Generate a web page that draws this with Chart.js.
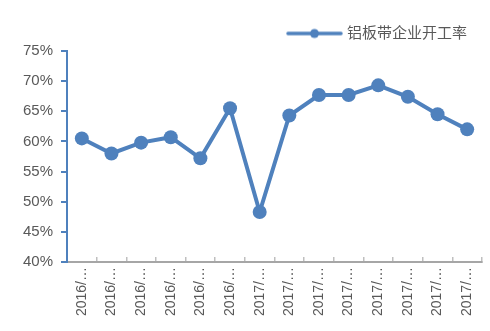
<!DOCTYPE html>
<html>
<head>
<meta charset="utf-8">
<script src="https://cdn.jsdelivr.net/npm/chart.js@4/dist/chart.umd.min.js"></script>
<style>
  html, body { margin: 0; padding: 0; background: #fff; }
  #wrap { width: 490px; height: 331px; }
</style>
</head>
<body>
<div id="wrap"><canvas id="rateChart"></canvas></div>
<script>
// 铝板带企业开工率 (%)
const categories = ['2016/…', '2016/…', '2016/…', '2016/…', '2016/…', '2016/…',
                    '2017/…', '2017/…', '2017/…', '2017/…', '2017/…', '2017/…', '2017/…', '2017/…'];
const seriesName = '铝板带企业开工率';
const rates = [60.5, 58.0, 59.8, 60.7, 57.2, 65.5, 48.3, 64.3, 67.7, 67.7, 69.3, 67.4, 64.5, 62.0];
const yTicks = [40, 45, 50, 55, 60, 65, 70, 75];

const BLUE = '#4f81bd';
const GREY_TEXT = '#595959';
const FONT = '"Liberation Sans", "Noto Sans CJK SC", sans-serif';

// legend marker: short line with a dot in the middle
function legendMarker() {
    const c = document.createElement('canvas');
    c.width = 57; c.height = 12;
    const ctx = c.getContext('2d');
    ctx.strokeStyle = BLUE;
    ctx.lineWidth = 3.5;
    ctx.lineCap = 'round';
    ctx.beginPath();
    ctx.moveTo(2, 6); ctx.lineTo(55, 6);
    ctx.stroke();
    ctx.fillStyle = BLUE;
    ctx.beginPath();
    ctx.arc(28.5, 6, 4.5, 0, Math.PI * 2);
    ctx.fill();
    return c;
}

// pull the legend a little in from the right edge
const legendInset = {
    id: 'legendInset',
    beforeDraw(chart) {
        if (chart.legend) chart.legend.right = chart.width - 15;
    }
};

new Chart(document.getElementById('rateChart'), {
    type: 'line',
    data: {
        labels: categories,
        datasets: [{
            label: seriesName,
            data: rates,
            borderColor: BLUE,
            backgroundColor: BLUE,
            borderWidth: 4,
            pointRadius: 7,
            pointHoverRadius: 7,
            pointBackgroundColor: BLUE,
            pointBorderWidth: 0,
            tension: 0
        }]
    },
    options: {
        responsive: true,
        maintainAspectRatio: false,
        animation: false,
        layout: { padding: { top: 18, right: 8, bottom: 9, left: 0 } },
        plugins: {
            legend: {
                position: 'top',
                align: 'end',
                labels: {
                    usePointStyle: true,
                    pointStyleWidth: 50,
                    boxHeight: 12,
                    color: GREY_TEXT,
                    font: { family: FONT, size: 15 },
                    padding: 8,
                    generateLabels: () => [{
                        text: seriesName,
                        pointStyle: legendMarker(),
                        fontColor: GREY_TEXT,
                        datasetIndex: 0
                    }]
                }
            },
            tooltip: { enabled: false }
        },
        scales: {
            x: {
                offset: true,
                afterFit: (axis) => { axis.paddingLeft = 0; axis.paddingRight = 0; axis.height = 60; },
                grid: {
                    offset: true,
                    drawOnChartArea: false,
                    drawTicks: true,
                    tickLength: -5,   // ticks point up into the plot
                    color: '#bfbfbf',
                    lineWidth: 1.5
                },
                border: { color: '#a6a6a6', width: 2 },
                ticks: {
                    color: GREY_TEXT,
                    font: { family: FONT, size: 14 },
                    minRotation: 90,
                    maxRotation: 90,
                    autoSkip: false,
                    padding: 10
                }
            },
            y: {
                min: 40,
                max: 75,
                afterBuildTicks: (axis) => { axis.ticks = yTicks.map(v => ({ value: v })); },
                afterFit: (axis) => { axis.width = 67; axis.paddingTop = 9; axis.paddingBottom = 9; },
                grid: {
                    drawOnChartArea: false,
                    drawTicks: true,
                    tickLength: 6,
                    color: BLUE,
                    lineWidth: 2
                },
                border: { color: BLUE, width: 2 },
                ticks: {
                    color: GREY_TEXT,
                    font: { family: FONT, size: 15 },
                    padding: 8,
                    callback: (v) => v + '%'
                }
            }
        }
    },
    plugins: [legendInset]
});
</script>
</body>
</html>
